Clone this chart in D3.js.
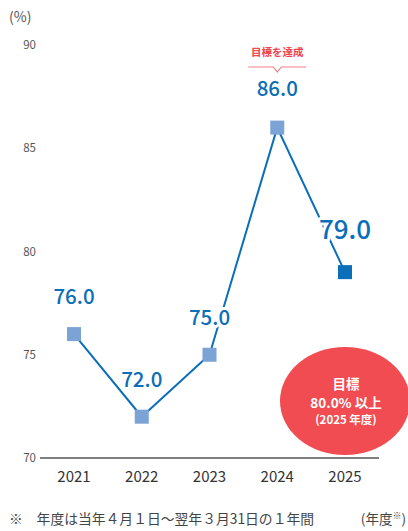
<!DOCTYPE html>
<html><head><meta charset="utf-8">
<script src="https://cdn.jsdelivr.net/npm/d3@7"></script>
<style>body{margin:0;background:#fff}svg{display:block;font-family:"Noto Sans CJK JP","Noto Sans",sans-serif}</style>
</head><body><svg id="c" width="408" height="531"></svg>
<script>
const years = ["2021","2022","2023","2024","2025"];
const values = [76.0, 72.0, 75.0, 86.0, 79.0];
const yTicks = [70, 75, 80, 85, 90];
const unitLabel = "(%)";
const xAxisTitle = "(年度";
const footnote = "※　年度は当年４月１日～翌年３月31日の１年間";
const achievedLabel = "目標を達成";
const targetLines = ["目標", "80.0% 以上", "(2025 年度)"];

const svg = d3.select("#c");
const x = d3.scalePoint().domain(years).range([74, 345]);
const y = d3.scaleLinear().domain([70, 90]).range([458, 45]);
const lineBlue = "#0a6eb8";

// y tick labels
svg.selectAll(".yt").data(yTicks).enter().append("text")
  .attr("x", 36).attr("y", d => y(d) + 4).attr("text-anchor", "end")
  .attr("font-size", 11.5).attr("fill", "#555").text(d => d);
svg.append("text").attr("x", 9).attr("y", 22).attr("font-size", 14).attr("fill", "#555").text(unitLabel);

// red ellipse
svg.append("ellipse").attr("cx", x("2025")).attr("cy", 401).attr("rx", 65).attr("ry", 54).attr("fill", "#f04c51");
const tt = [[384.5, 13.5], [403, 13.5], [419.5, 11.5]];
targetLines.forEach((t, i) => svg.append("text").attr("x", x("2025") + 1).attr("y", tt[i][0] + 4.5)
  .attr("text-anchor", "middle").attr("font-size", tt[i][1]).attr("font-weight", "bold").attr("fill", "#fff").text(t));

// baseline
svg.append("line").attr("x1", 40).attr("x2", 379).attr("y1", y(70)).attr("y2", y(70)).attr("stroke", "#555").attr("stroke-width", 1.5);

// x labels
svg.selectAll(".xt").data(years).enter().append("text")
  .attr("x", d => x(d)).attr("y", 482).attr("text-anchor", "middle")
  .attr("font-size", 15).attr("fill", "#333").text(d => d);

// line
svg.append("path").datum(values).attr("fill", "none").attr("stroke", lineBlue).attr("stroke-width", 2)
  .attr("d", d3.line().x((d, i) => x(years[i])).y(d => y(d)));

// markers
svg.selectAll(".m").data(values).enter().append("rect")
  .attr("x", (d, i) => x(years[i]) - 7).attr("y", d => y(d) - 7).attr("width", 14).attr("height", 14)
  .attr("fill", (d, i) => i === values.length - 1 ? "#0a6eb8" : "#7ba3d6");

// value labels
const lblOff = [-37, -37, -37, -39, -42];
svg.selectAll(".vl").data(values).enter().append("text")
  .attr("x", (d, i) => x(years[i])).attr("y", (d, i) => y(d) + lblOff[i] + (i === 4 ? 9 : 7))
  .attr("text-anchor", "middle").attr("font-size", (d, i) => i === 4 ? 26 : 20.5)
  .attr("font-family", "'Noto Sans CJK JP','Noto Sans',sans-serif").attr("font-weight", 500)
  .attr("fill", lineBlue).attr("stroke", "#fff").attr("stroke-width", 6).attr("paint-order", "stroke")
  .attr("stroke-linejoin", "round")
  .text(d => d.toFixed(1));

// achieved annotation
const ax = x("2024");
svg.append("text").attr("x", ax).attr("y", 56).attr("text-anchor", "middle").attr("font-size", 10.5)
  .attr("font-weight", "bold").attr("fill", "#ee4650").text(achievedLabel);
svg.append("path").attr("fill", "none").attr("stroke", "#f08088").attr("stroke-width", 1.2)
  .attr("d", `M${ax - 29},67 H${ax - 4} L${ax},72 L${ax + 4},67 H${ax + 29}`);

// footnote
svg.append("text").attr("x", 9).attr("y", 524).attr("font-size", 13.8).attr("fill", "#444").text(footnote);
const t2 = svg.append("text").attr("x", 406).attr("y", 524).attr("text-anchor", "end").attr("font-size", 13.5).attr("fill", "#444");
t2.append("tspan").text(xAxisTitle);
t2.append("tspan").attr("font-size", 9).attr("dy", -5).text("※");
t2.append("tspan").attr("dy", 5).text(")");
</script></body></html>
